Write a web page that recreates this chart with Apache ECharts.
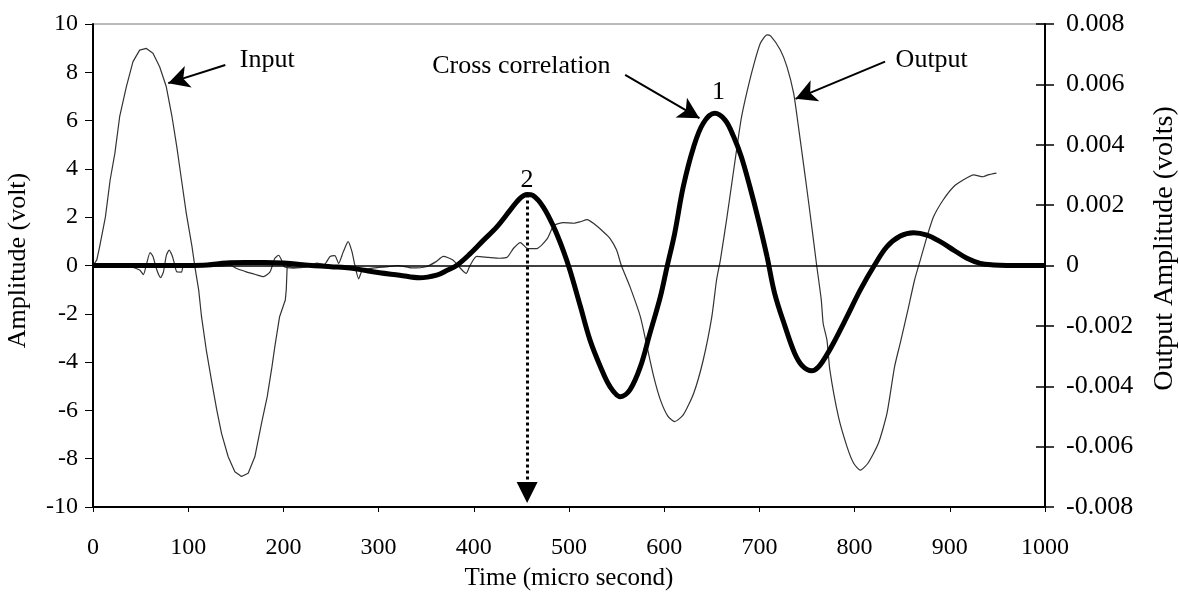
<!DOCTYPE html>
<html>
<head>
<meta charset="utf-8">
<script src="https://cdn.jsdelivr.net/npm/echarts@6/dist/echarts.min.js"></script>
<style>
  html, body { margin: 0; padding: 0; background: #fff; }
  #chart { width: 1179px; height: 594px; }
</style>
</head>
<body>
<div id="chart"></div>
<script>
// input pulse (volt, left axis)
const inputTime = [0, 4, 7, 13, 18, 23, 28, 35, 42, 49, 56, 63, 70, 77, 83, 88, 93, 98, 104, 107, 111, 114, 119, 125, 130, 135, 142, 149, 156, 163, 170, 177, 183, 188, 191, 196, 202, 203, 204, 210, 225];
const inputVolt = [0, 0.23, 0.78, 2.0, 3.54, 4.65, 6.16, 7.4, 8.44, 8.92, 8.99, 8.79, 8.23, 7.4, 6.16, 4.92, 3.54, 2.16, 0.78, -0.05, -1.01, -2.12, -3.5, -4.88, -5.98, -6.95, -7.92, -8.54, -8.74, -8.6, -7.92, -6.54, -5.43, -4.19, -3.36, -2.12, -1.43, -1.01, 0, -0.1, -0.05];

// output signal (volts, right axis)
const outputTime = [0, 10, 20, 30, 40, 49, 53, 56, 60, 63, 66, 69, 71, 74, 77, 80, 83, 85, 88, 93, 95, 110, 130, 145, 151, 161, 172, 179, 186, 191, 195, 198, 201, 210, 225, 235, 243, 249, 254, 258, 263, 268, 272, 275, 279, 283, 295, 310, 320, 335, 350, 360, 368, 378, 392, 396, 403, 415, 427, 435, 442, 449, 456, 466, 477, 484, 494, 505, 512, 519, 526, 536, 543, 550, 555, 564, 575, 582, 589, 596, 604, 611, 620, 631, 641, 650, 655, 659, 666, 671, 676, 681, 687, 694, 701, 708, 712, 722, 729, 736, 741, 746, 750, 755, 760, 765, 767, 771, 774, 783, 792, 799, 806, 814, 825, 834, 842, 848, 856, 863, 869, 876, 883, 893, 904, 914, 925, 935, 940, 949];
const outputVolt = [0, 0.00002, -0.00002, 0.00002, -0.00004, -0.00015, -0.0003, 0.00002, 0.00043, 0.0003, -0.00004, -0.00031, -0.0004, -0.00021, 0.00033, 0.00051, 0.00034, 0.00013, -0.00021, -0.00022, 0, 0.00002, -0.00002, 0, -0.0001, -0.00021, -0.00031, -0.00037, -0.00021, 0.00024, 0.00034, 0.00018, -0.00004, -0.00008, -0.00004, 0.00008, 0.00004, 0.0003, 0.00033, 0.00007, 0.00046, 0.00079, 0.00046, 0.00002, -0.00044, -0.00016, -0.00008, -0.00004, 0, -0.00008, -0.00004, 0.00012, 0.0003, 0.00018, -0.00026, 0, 0.0003, 0.00027, 0.00024, 0.00027, 0.00058, 0.00076, 0.00057, 0.00056, 0.00088, 0.00132, 0.00142, 0.0014, 0.00145, 0.00152, 0.00139, 0.00112, 0.0009, 0.00051, 0, -0.0007, -0.0017, -0.00269, -0.00368, -0.00445, -0.005, -0.00517, -0.00495, -0.00423, -0.00313, -0.0017, -0.00048, 0.00018, 0.00162, 0.00272, 0.00382, 0.00488, 0.00576, 0.00664, 0.00736, 0.00764, 0.0076, 0.00714, 0.00658, 0.0057, 0.0046, 0.00344, 0.0025, 0.00129, 0.00004, -0.00114, -0.00192, -0.00248, -0.00346, -0.00501, -0.006, -0.00655, -0.00678, -0.00655, -0.00589, -0.0049, -0.00335, -0.00256, -0.00147, -0.00048, 0.00018, 0.00095, 0.00162, 0.00217, 0.00261, 0.00283, 0.003, 0.00294, 0.003, 0.00306];

// cross correlation (left axis scale)
const corrTime = [0, 50, 100, 120, 140, 160, 180, 200, 215, 230, 250, 270, 285, 301, 322, 343, 361, 372, 382, 396, 410, 424, 438, 448, 456, 462, 473, 484, 494, 501, 512, 522, 533, 543, 554, 564, 575, 585, 596, 603, 611, 620, 631, 641, 653, 664, 673, 681, 690, 699, 708, 716, 727, 737, 745, 755, 762, 770, 778, 792, 806, 821, 834, 848, 862, 876, 890, 904, 918, 932, 946, 960, 1000];
const corrValue = [0, 0, 0, 0.02, 0.1, 0.12, 0.12, 0.1, 0.05, 0, -0.05, -0.1, -0.2, -0.3, -0.4, -0.51, -0.4, -0.2, 0, 0.48, 1.04, 1.59, 2.28, 2.76, 2.94, 2.9, 2.42, 1.59, 0.62, -0.2, -1.7, -3.08, -4.19, -5.01, -5.43, -5.15, -4.19, -2.81, -1.29, -0.05, 1.33, 3.26, 4.92, 5.89, 6.3, 6.02, 5.33, 4.5, 3.26, 1.88, 0.37, -1.15, -2.53, -3.63, -4.15, -4.36, -4.2, -3.75, -3.2, -2.12, -1.01, 0.02, 0.78, 1.22, 1.36, 1.26, 0.99, 0.64, 0.3, 0.09, 0.02, 0, 0];

// annotation texts, anchored in data coordinates (time, left-axis value)
const noteText = ['Input', 'Cross correlation', 'Output', '1', '2'];
const noteAt = [[183, 8.5], [450, 8.26], [881, 8.5], [657, 7.18], [456, 3.54]];
// pointer arrows: from -> to
const arrowFrom = [[139, 8.3], [559, 7.89], [832, 8.44]];
const arrowTo = [[79, 7.55], [637, 6.1], [738, 6.9]];

const FONT = "'Liberation Serif', 'Times New Roman', serif";
const zip = (xs, ys) => xs.map((x, i) => [x, ys[i]]);

// peak 2: highest cross correlation before 500 us
let p2 = 0;
corrTime.forEach((t, i) => { if (t < 500 && corrValue[i] > corrValue[p2]) p2 = i; });

const chart = echarts.init(document.getElementById('chart'), null, { renderer: 'canvas' });

const labelStyle = { color: '#000', fontFamily: FONT, fontSize: 24 };

chart.setOption({
  animation: false,
  backgroundColor: '#fff',
  grid: {
    left: 93, right: 134, top: 24, bottom: 87,
    outerBoundsMode: 'none', containLabel: false,
    show: true, borderColor: '#777', borderWidth: 1
  },
  xAxis: {
    type: 'value', min: 0, max: 1000, interval: 100,
    name: 'Time (micro second)', nameLocation: 'middle', nameGap: 59,
    nameTextStyle: { color: '#000', fontFamily: FONT, fontSize: 25 },
    axisLine: { onZero: false, lineStyle: { color: '#000', width: 2 } },
    axisTick: { length: 5, lineStyle: { color: '#000' } },
    axisLabel: Object.assign({ margin: 29, formatter: v => String(v) }, labelStyle),
    splitLine: { show: false }
  },
  yAxis: [
    {
      type: 'value', min: -10, max: 10, interval: 2, position: 'left',
      name: 'Amplitude (volt)', nameLocation: 'middle', nameRotate: 90, nameGap: 62,
      nameTextStyle: { color: '#000', fontFamily: FONT, fontSize: 26, padding: [0, 0, 0, 10] },
      axisLine: { show: true, onZero: false, lineStyle: { color: '#000', width: 2 } },
      axisTick: { show: true, length: 8, lineStyle: { color: '#000' } },
      axisLabel: Object.assign({ margin: 15 }, labelStyle),
      splitLine: { show: false }
    },
    {
      type: 'value', min: -0.008, max: 0.008, interval: 0.002, position: 'right',
      name: 'Output Amplitude (volts)', nameLocation: 'middle', nameRotate: 90, nameGap: 106,
      nameTextStyle: { color: '#000', fontFamily: FONT, fontSize: 28, padding: [0, 0, 0, 34] },
      axisLine: { show: true, onZero: false, lineStyle: { color: '#000', width: 2 } },
      axisTick: { show: true, length: 9, lineStyle: { color: '#000', width: 1.5 } },
      axisLabel: Object.assign({}, labelStyle, { margin: 21, fontSize: 26, formatter: v => Math.abs(v) < 1e-9 ? '0' : v.toFixed(3) }),
      splitLine: { show: false }
    },
    {
      // inner half of the crossing ticks on the right axis
      type: 'value', min: -0.008, max: 0.008, interval: 0.002, position: 'right', offset: 0,
      axisLine: { show: false, onZero: false },
      axisTick: { show: true, inside: true, length: 9, lineStyle: { color: '#000', width: 1.5 } },
      axisLabel: { show: false },
      splitLine: { show: false }
    }
  ],
  series: [
    {
      name: 'Input', type: 'line', yAxisIndex: 0, data: zip(inputTime, inputVolt),
      showSymbol: false, lineStyle: { color: '#333', width: 1.2 }, z: 2,
      markLine: {
        silent: true, symbol: 'none', label: { show: false },
        lineStyle: { color: '#000', width: 1.5, type: 'solid' },
        data: [{ yAxis: 0 }]
      }
    },
    {
      name: 'Output', type: 'line', yAxisIndex: 1, data: zip(outputTime, outputVolt),
      showSymbol: false, smooth: 0.2, lineStyle: { color: '#333', width: 1.2 }, z: 2
    },
    {
      name: 'Cross correlation', type: 'line', yAxisIndex: 0, data: zip(corrTime, corrValue),
      showSymbol: false, smooth: 0.35, lineStyle: { color: '#000', width: 5 }, z: 3,
      markLine: {
        silent: true, label: { show: false },
        data: [
          [
            { coord: [corrTime[p2], corrValue[p2]], symbol: 'none',
              lineStyle: { color: '#000', width: 3, type: [3, 3] } },
            { coord: [corrTime[p2], -9.4], symbol: 'triangle', symbolSize: [21, 21],
              itemStyle: { color: '#333' } }
          ]
        ].concat(arrowFrom.map((f, i) => [
          { coord: f, symbol: 'none', lineStyle: { color: '#000', width: 2, type: 'solid' } },
          { coord: arrowTo[i], symbol: 'arrow', symbolSize: [17, 21], itemStyle: { color: '#333' } }
        ]))
      },
      markPoint: {
        silent: true,
        data: noteText.map((txt, i) => ({
          coord: noteAt[i], symbol: 'rect', symbolSize: 1,
          itemStyle: { color: 'rgba(0,0,0,0)' },
          label: { show: true, position: 'inside', formatter: txt, color: '#000', fontFamily: FONT, fontSize: 26 }
        }))
      }
    }
  ]
});
</script>
</body>
</html>
